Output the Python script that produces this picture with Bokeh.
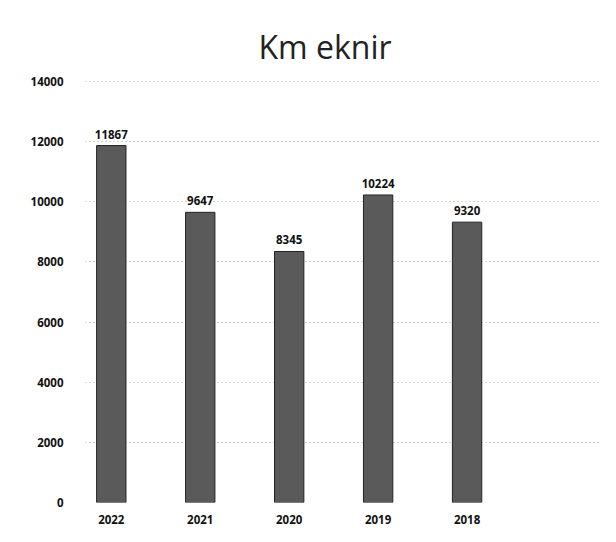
from bokeh.plotting import figure
from bokeh.models import ColumnDataSource, FixedTicker, Range1d, LabelSet
from bokeh.core.properties import value
from bokeh.embed import file_html
from bokeh.resources import INLINE

years = ["2022", "2021", "2020", "2019", "2018"]
km = [11867, 9647, 8345, 10224, 9320]
y_ticks = [0, 2000, 4000, 6000, 8000, 10000, 12000, 14000]

xpos = list(range(len(years)))
src = ColumnDataSource(dict(x=xpos, km=km, lbl=[str(v) for v in km]))

p = figure(width=600, height=526, output_backend="svg", toolbar_location=None,
           x_range=Range1d(-0.29, 5.5), y_range=Range1d(0, 14030),
           min_border_left=85, min_border_right=0, min_border_bottom=23, min_border_top=80)

p.title.text = "Km eknir"
p.title.text_font = "Open Sans"
p.title.text_font_size = "32px"
p.title.text_font_style = "normal"
p.title.text_color = "#222222"
p.title.align = "left"
p.title.offset = 173
p.title.standoff = 26

p.vbar(x="x", top="km", width=0.33, source=src, fill_color="#5a5a5a",
       line_color="#222222", line_width=1)

labels = LabelSet(x="x", y="km", text="lbl", source=src, text_align="center",
                  text_baseline="bottom", y_offset=7, text_font=value("Open Sans"),
                  text_font_size=value("11.5px"), text_font_style=value("bold"),
                  text_color=value("#111111"))
p.add_layout(labels)

p.xaxis.ticker = FixedTicker(ticks=xpos)
p.xaxis.major_label_overrides = {i: y for i, y in enumerate(years)}
p.yaxis.ticker = FixedTicker(ticks=y_ticks)
for ax in (p.xaxis, p.yaxis):
    ax.axis_line_color = None
    ax.major_tick_line_color = None
    ax.minor_tick_line_color = None
    ax.major_label_text_font = "Open Sans"
    ax.major_label_text_font_size = "11.5px"
    ax.major_label_text_font_style = "bold"
    ax.major_label_text_color = "#111111"
p.yaxis.major_label_standoff = 16
p.xaxis.major_label_standoff = 6

p.xgrid.grid_line_color = None
p.ygrid.grid_line_color = "#aaaaaa"
p.ygrid.grid_line_dash = "1 3"
p.outline_line_color = None

open("out.html", "w").write(file_html(p, INLINE))
